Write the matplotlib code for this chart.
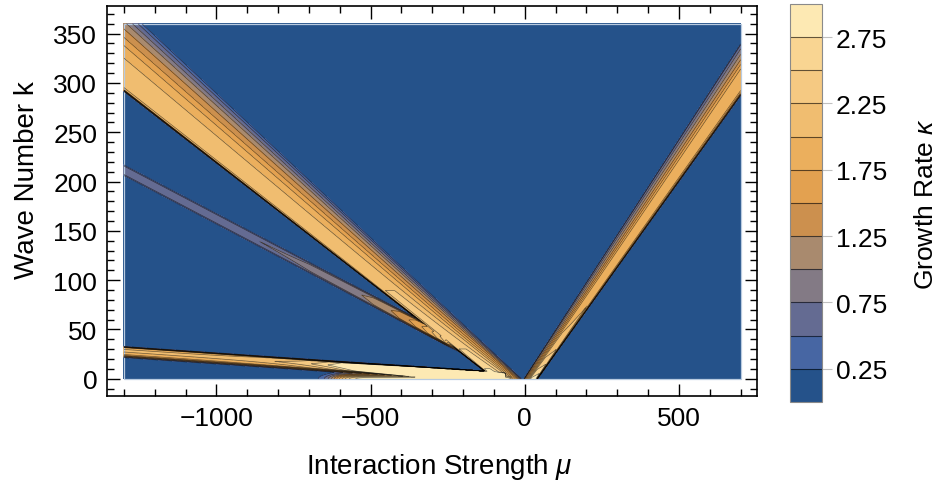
import numpy as np
import matplotlib
matplotlib.use("Agg")
from matplotlib import pyplot as plt
from matplotlib.colors import ListedColormap, BoundaryNorm
from matplotlib.ticker import MultipleLocator
from matplotlib.patches import Rectangle

plt.rcParams['font.family'] = ['Liberation Sans', 'DejaVu Sans']
plt.rcParams['mathtext.fontset'] = 'custom'
plt.rcParams['mathtext.rm'] = 'Liberation Sans'
plt.rcParams['mathtext.it'] = 'Liberation Sans:italic'

# plotted window
mu_range = [-1300, 700]
k_range = [0, 360]

# contour levels + band colours
levels = [0, 0.25, 0.5, 0.75, 1.0, 1.25, 1.5, 1.75, 2.0, 2.25, 2.5, 2.75, 3.0]
band_colors = ['#25528a', '#4766a3', '#646b92', '#837a85', '#a98a6e', '#cc904e',
               '#e3a150', '#ebaf5d', '#f0bd70', '#f5c982', '#f9d592', '#fde9b3']
cbar_ticks = [0.25, 0.75, 1.25, 1.75, 2.25, 2.75]

# tongue A (wide one, upper left): edges given as (mu at k=0, |dk/dmu|)
A_upper = (-8, 0.295)
A_lower = (-100, 0.2425)
A_t = [0, 0.03, 0.1, 0.3, 0.55, 0.8, 0.92, 1.0]
A_v = [0, 0.85, 1.0, 1.0, 0.82, 0.5, 0.25, 0]
A_peak = (2.2, 0.75, 33)          # far value, extra near k=0, decay in k

# tongue B (thin grey one): centre line k = slope*(-mu) + offset
B_line = (0.1642, -2.0)
B_halfwidth = 6.5
B_t = [-1, -0.55, 0, 0.55, 1]
B_v = [0, 0.92, 1.0, 0.92, 0]
B_peak = (0.72, 1.3, 150)

# tongue C (low band along the bottom)
C_line = (0.0215, -1.0)
C_halfwidth = 6.0
C_t = [-1, -0.5, 0.2, 0.75, 1]
C_v = [0, 0.8, 1.0, 0.9, 0]
C_peak = (2.1, 0.9, 120)

# bright strip at k ~ 0
D_mu = (-610, -40)
D_height = 5.0
D_value = 2.99

# tongue E (right hand side): edges (mu at k=0, dk/dmu)
E_upper = (-3, 0.4845)
E_lower = (42, 0.4356)
E_t = [0, 0.04, 0.3, 0.5, 0.85, 0.95, 1.0]
E_v = [0, 0.3, 0.65, 0.95, 1.0, 0.7, 0]
E_peak = (1.95, 1.0, 25)

mu = np.linspace(mu_range[0], mu_range[1], 1600)
k = np.linspace(k_range[0], k_range[1], 800)
MU, K = np.meshgrid(mu, k)

# A
lo = A_lower[0] - K / A_lower[1]
hi = A_upper[0] - K / A_upper[1]
t = (MU - lo) / (hi - lo)
A = np.where((t >= 0) & (t <= 1), np.interp(t, A_t, A_v), 0)
A *= A_peak[0] + A_peak[1] * np.exp(-K / A_peak[2])

# B
t = (K - (B_line[0] * -MU + B_line[1])) / B_halfwidth
B = np.where(np.abs(t) <= 1, np.interp(t, B_t, B_v), 0)
B *= np.minimum(B_peak[0] + B_peak[1] * np.exp((MU + 300) / B_peak[2]), 2.4)
B *= np.clip((-180 - MU) / 80, 0, 1)

# C
t = (K - (C_line[0] * -MU + C_line[1])) / C_halfwidth
C = np.where(np.abs(t) <= 1, np.interp(t, C_t, C_v), 0)
C *= C_peak[0] + C_peak[1] * np.exp((MU + 600) / C_peak[2])
C *= np.clip((-60 - MU) / 60, 0, 1)

# D
D = D_value * np.exp(-(K / D_height) ** 2)
D *= 1 / (1 + np.exp(-(MU - D_mu[0]) / 25)) / (1 + np.exp((MU - D_mu[1]) / 4))

# E
lo = E_upper[0] + K / E_upper[1]
hi = E_lower[0] + K / E_lower[1]
t = (MU - lo) / (hi - lo)
E = np.where((t >= 0) & (t <= 1), np.interp(t, E_t, E_v), 0)
E *= E_peak[0] + E_peak[1] * np.exp(-K / E_peak[2])

Z = np.clip(np.maximum.reduce([A, B, C, D, E]), 0, 2.99)

cmap = ListedColormap(band_colors)
norm = BoundaryNorm(levels, cmap.N)

fig = plt.figure(figsize=(9.4, 4.81), dpi=100)
ax = fig.add_axes([0.1138, 0.1746, 0.6915, 0.8108])
cf = ax.contourf(MU, K, Z, levels=levels, cmap=cmap, norm=norm)
ax.contour(MU, K, Z, levels=levels[1:-1], colors='k', linewidths=0.5, alpha=0.55)
ax.add_patch(Rectangle((mu_range[0], k_range[0]), mu_range[1] - mu_range[0],
                       k_range[1] - k_range[0], fill=False, ec='#b9cbe0', lw=0.9))

ax.set_xlim(-1355, 753)
ax.set_ylim(-17.5, 378)
ax.xaxis.set_major_locator(MultipleLocator(500))
ax.xaxis.set_minor_locator(MultipleLocator(100))
ax.yaxis.set_major_locator(MultipleLocator(50))
ax.yaxis.set_minor_locator(MultipleLocator(10))
ax.tick_params(which='both', direction='in', top=True, right=True, width=1.0,
               labelsize=19, pad=7)
ax.tick_params(which='major', length=9)
ax.tick_params(which='minor', length=5)
for s in ax.spines.values():
    s.set_linewidth(1.2)

ax.set_xlabel(r'Interaction Strength $\mu$', fontsize=20, va='center', ha='center')
ax.xaxis.set_label_coords(0.511, -0.18)
ax.set_ylabel('Wave Number k', fontsize=20, va='center', ha='center')
ax.yaxis.set_label_coords(-0.123, 0.556)

cax = fig.add_axes([0.8404, 0.1622, 0.0341, 0.8274])
cb = fig.colorbar(cf, cax=cax, ticks=cbar_ticks)
for lv in levels[1:-1]:
    cax.axhline(lv, color='k', lw=0.8, alpha=0.6)
cb.ax.minorticks_off()
cb.outline.set_edgecolor('#8a8a8a')
cb.outline.set_linewidth(0.8)
cb.ax.tick_params(direction='out', length=7, width=0.8, color='#c0c0c0',
                  labelsize=19, pad=3)
cb.ax.set_yticklabels(['0.25', '0.75', '1.25', '1.75', '2.25', '2.75'])
cb.set_label(r'Growth Rate $\kappa$', fontsize=19, labelpad=19)

fig.savefig('out.png', dpi=100)
